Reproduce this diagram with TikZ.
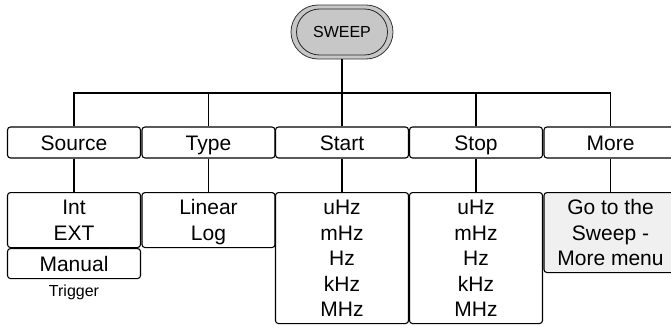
\documentclass[tikz,border=0pt]{standalone}
\usepackage{fontspec}
\setmainfont{Liberation Sans}
\newcommand\lnst{\rule[-5pt]{0pt}{25pt}}
\begin{document}
\begin{tikzpicture}[x=1pt,y=-1pt,
  menubox/.style={draw=black,line width=1.1pt,rounded corners=3pt,inner sep=0pt,
    minimum width=133pt,align=center,font=\fontsize{21}{25.5}\selectfont},
  topbox/.style={menubox,minimum height=31pt,text height=15pt,text depth=0pt},
  link/.style={draw=black,line width=1.1pt}]
\useasboundingbox (0,0) rectangle (671,324);
% root
\node[draw=black!80,line width=0.8pt,fill=black!22,rounded corners=27pt,
  minimum width=102pt,minimum height=54pt,inner sep=0pt,
  font=\fontsize{16}{18}\selectfont] (sweep) at (342,32) {SWEEP};
\draw[black!85,line width=0.8pt,rounded corners=23pt] (296.5,9) rectangle (387.5,55);
\coordinate (bus) at (342,93);
% top row
\node[topbox] (source) at (74,142.5) {Source};
\node[topbox] (type) at (208.5,142.5) {Type};
\node[topbox] (start) at (342,142.5) {Start};
\node[topbox] (stop) at (476,142.5) {Stop};
\node[topbox] (more) at (610.5,142.5) {More};
% lower row
\node[menubox,anchor=north,minimum height=55pt] (srcA) at (74,192) {\lnst Int\\\lnst EXT};
\node[menubox,anchor=north,minimum height=30pt] (srcB) at (74,248) {\lnst Manual};
\node[font=\fontsize{16}{18}\selectfont,inner sep=0pt] (trig) at (74,292) {Trigger};
\node[menubox,anchor=north,minimum height=55pt] (typeA) at (208.5,192) {\lnst Linear\\\lnst Log};
\node[menubox,anchor=north,minimum height=131pt] (startA) at (342,192)
  {\lnst uHz\\\lnst mHz\\\lnst Hz\\\lnst kHz\\\lnst MHz};
\node[menubox,anchor=north,minimum height=131pt] (stopA) at (476,192)
  {\lnst uHz\\\lnst mHz\\\lnst Hz\\\lnst kHz\\\lnst MHz};
\node[menubox,anchor=north,minimum height=80pt,fill=black!6] (moreA) at (610.5,192)
  {\lnst Go to the\\\lnst Sweep -\\\lnst More menu};
% connectors
\draw[link] (sweep.south) -- (bus);
\draw[link] (source.north) -- (source.north |- bus) -- (more.north |- bus) -- (more.north);
\foreach \n in {type,start,stop} \draw[link] (\n.north) -- (\n.north |- bus);
\draw[link] (source.south) -- (srcA.north);
\draw[link] (type.south) -- (typeA.north);
\draw[link] (start.south) -- (startA.north);
\draw[link] (stop.south) -- (stopA.north);
\draw[link] (more.south) -- (moreA.north);
\end{tikzpicture}
\end{document}
